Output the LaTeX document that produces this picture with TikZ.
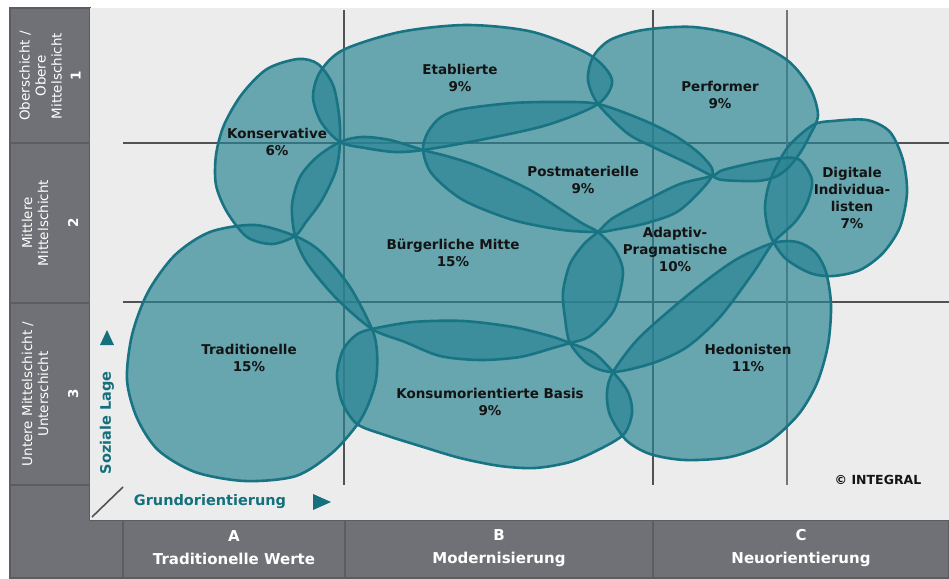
\documentclass[tikz,border=0pt]{standalone}
\usepackage{fontspec}
\setmainfont{DejaVu Sans}
\definecolor{zellgrau}{RGB}{112,113,118}
\definecolor{zellrand}{RGB}{92,93,97}
\definecolor{plotgrau}{RGB}{236,236,236}
\definecolor{gitter}{RGB}{82,82,86}
\definecolor{milieu}{RGB}{40,132,147}
\definecolor{milieurand}{RGB}{24,116,131}
\definecolor{achse}{RGB}{20,112,124}

\begin{document}
\begin{tikzpicture}[x=1pt,y=-1pt]
    \tikzstyle{zelle}=[fill=zellgrau,draw=zellrand,line width=1.5pt]
    \tikzstyle{lines}=[draw=gitter,line width=2.4pt]
    \tikzstyle{flaeche}=[fill=milieu,fill opacity=0.68]
    \tikzstyle{kontur}=[draw=milieurand,line width=2.6pt]
    \tikzstyle{milieutext}=[align=center,text=black!92,font=\fontsize{13.5}{17}\selectfont\bfseries]
    \tikzstyle{schicht}=[rotate=90,align=center,text=white,font=\fontsize{13.5}{16}\selectfont]
    \tikzstyle{spalte}=[align=center,text=white,font=\fontsize{15}{23}\selectfont\bfseries]
    \tikzstyle{achstext}=[text=achse,font=\fontsize{14.5}{17}\selectfont\bfseries]

    \useasboundingbox (0,0) rectangle (949,578);
    \fill[white] (0,0) rectangle (949,578);
    \draw[zelle] (10,8) rectangle (90,143);
    \draw[zelle] (10,143) rectangle (90,303);
    \draw[zelle] (10,303) rectangle (90,485);
    \draw[zelle] (10,485) -- (90,485) -- (90,520) -- (123,520) -- (123,578) -- (10,578) -- cycle;
    \draw[zelle] (123,520) rectangle (345,578);
    \draw[zelle] (345,520) rectangle (653,578);
    \draw[zelle] (653,520) rectangle (949,578);
    \fill[plotgrau] (90,8) rectangle (949,520);

    \draw[lines] (123,143) -- (949,143);
    \draw[lines] (123,302) -- (949,302);
    \draw[lines] (344,10) -- (344,485);
    \draw[lines] (653,10) -- (653,485);
    \draw[lines,draw=gitter!80,line width=1.6pt] (787,10) -- (787,485);
    \draw[draw=gitter,line width=1.6pt] (92,517) -- (123,487);

    \def\pKons{plot[smooth cycle] coordinates {(298,59) (318,64) (333,85) (339,115) (340,142) (336,170) (322,200) (306,222) (295,236) (272,244) (247,237) (227,212) (216,185) (216,155) (224,125) (242,94) (267,69)}}
    \def\pEtab{plot[smooth cycle] coordinates {(340,142) (321,122) (313,97) (320,72) (343,50) (400,32) (467,25) (533,32) (590,55) (612,80) (598,104) (547,125) (480,140) (423,150) (395,152) (365,148)}}
    \def\pPerf{plot[smooth cycle] coordinates {(598,104) (588,80) (593,57) (610,40) (643,30) (693,27) (743,37) (787,60) (810,88) (818,115) (810,135) (800,153) (788,168) (775,177) (757,181) (723,180) (712,176) (687,163) (653,147) (627,133)}}
    \def\pPost{plot[smooth cycle] coordinates {(423,150) (428,132) (441,117) (463,109) (513,103) (560,102) (598,104) (643,120) (677,137) (703,157) (712,176) (680,210) (647,223) (613,230) (598,232) (563,230) (513,220) (463,200) (432,174)}}
    \def\pBuerg{plot[smooth cycle] coordinates {(340,142) (362,137) (390,140) (423,150) (450,157) (480,167) (530,190) (580,222) (598,232) (615,250) (623,273) (614,310) (590,336) (570,343) (553,348) (520,357) (480,360) (440,356) (405,342) (372,329) (336,298) (307,263) (295,236) (292,205) (300,177) (317,157)}}
    \def\pTrad{plot[smooth cycle] coordinates {(295,236) (321,252) (350,287) (372,329) (377,352) (376,380) (368,405) (357,425) (332,453) (296,476) (245,481) (195,472) (158,450) (137,418) (127,380) (132,335) (148,292) (175,255) (210,232) (255,225)}}
    \def\pKonsum{plot[smooth cycle] coordinates {(372,329) (413,322) (463,321) (513,327) (550,336) (570,343) (594,353) (613,372) (628,392) (632,413) (624,434) (600,449) (570,462) (535,468) (500,466) (460,458) (420,446) (385,435) (357,424) (342,402) (337,375) (343,350) (356,335)}}
    \def\pAdapt{plot[smooth cycle] coordinates {(598,232) (613,218) (647,200) (680,184) (712,176) (723,170) (757,162) (783,158) (800,160) (812,180) (807,203) (795,222) (773,243) (753,273) (720,317) (687,347) (653,363) (613,372) (588,364) (570,343) (565,318) (563,292) (570,264) (584,244)}}
    \def\pHed{plot[smooth cycle] coordinates {(773,243) (797,242) (815,252) (826,272) (831,305) (828,345) (817,383) (798,415) (767,443) (730,457) (685,460) (650,454) (626,440) (610,415) (607,392) (613,372) (637,340) (670,310) (703,283) (737,259)}}
    \def\pDigi{plot[smooth cycle] coordinates {(813,125) (833,121) (867,120) (890,132) (903,160) (907,193) (900,227) (883,253) (860,270) (833,276) (810,273) (785,258) (770,235) (765,207) (771,178) (788,147)}}

    \foreach \m in {\pKons,\pEtab,\pPerf,\pPost,\pBuerg,\pTrad,\pKonsum,\pAdapt,\pHed,\pDigi}
        \fill[flaeche] \m;
    \foreach \m in {\pKons,\pEtab,\pPerf,\pPost,\pBuerg,\pTrad,\pKonsum,\pAdapt,\pHed,\pDigi}
        \draw[kontur] \m;

    \node[milieutext] (etab) at (460,78) {Etablierte\\9\%};
    \node[milieutext] (perf) at (720,95) {Performer\\9\%};
    \node[milieutext] (kons) at (277,142) {Konservative\\6\%};
    \node[milieutext] (post) at (583,180) {Postmaterielle\\9\%};
    \node[milieutext] (digi) at (852,198) {Digitale\\Individua-\\listen\\7\%};
    \node[milieutext] (buerg) at (453,253) {Bürgerliche Mitte\\15\%};
    \node[milieutext] (adapt) at (675,249) {Adaptiv-\\Pragmatische\\10\%};
    \node[milieutext] (trad) at (249,358) {Traditionelle\\15\%};
    \node[milieutext] (hed) at (748,358) {Hedonisten\\11\%};
    \node[milieutext] (konsum) at (490,402) {Konsumorientierte Basis\\9\%};
    \node[milieutext,font=\fontsize{12.5}{15}\selectfont\bfseries] (integral) at (878,480) {© INTEGRAL};

    \node[schicht] (s1) at (50,76) {Oberschicht /\\Obere\\Mittelschicht\\[3pt]\textbf{1}};
    \node[schicht] (s2) at (50,223) {Mittlere\\Mittelschicht\\[14pt]\textbf{2}};
    \node[schicht] (s3) at (50,394) {Untere Mittelschicht /\\Unterschicht\\[14pt]\textbf{3}};

    \node[spalte] (colA) at (234,548) {A\\Traditionelle Werte};
    \node[spalte] (colB) at (499,548) {B\\Modernisierung};
    \node[spalte] (colC) at (801,548) {C\\Neuorientierung};

    \node[achstext,rotate=90] (sozial) at (107,423) {Soziale Lage};
    \node[achstext] (grund) at (210,502) {Grundorientierung};
    \fill[achse] (100,345) -- (114,345) -- (107,330) -- cycle;
    \fill[achse] (313,494) -- (313,510) -- (331,502) -- cycle;
\end{tikzpicture}
\end{document}
